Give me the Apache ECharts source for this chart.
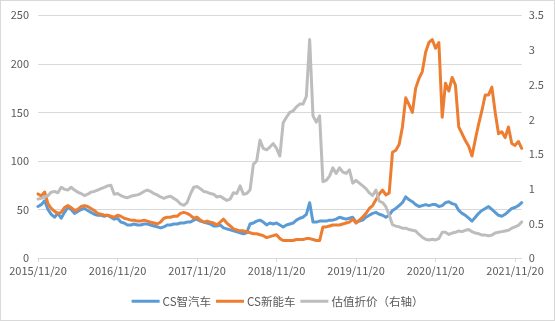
<!DOCTYPE html>
<html><head><meta charset="utf-8">
<script src="https://cdn.jsdelivr.net/npm/echarts@6/dist/echarts.min.js"></script>
<style>html,body{margin:0;padding:0;background:#fff}#c{width:555px;height:321px;position:relative}#b{position:absolute;left:0;top:0;width:553px;height:319px;border:1px solid #d9d9d9;pointer-events:none}</style>
</head><body><div id="c"></div><div id="b"></div>
<script>
// Semi-monthly sample dates (5th and 20th of each month) from 2015/11/20
const dates = [];
(function(){let y=2015,m=11,d=20;for(let i=0;i<147;i++){dates.push(y+'/'+m+'/'+d);if(d===20){d=5;m++;if(m>12){m=1;y++;}}else{d=20;}}})();
const xTickLabels = ['2015/11/20','2016/11/20','2017/11/20','2018/11/20','2019/11/20','2020/11/20','2021/11/20'];
const leftTicks = [0,50,100,150,200,250];
const rightTicks = [0,0.5,1,1.5,2,2.5,3,3.5];

const csSmartAuto = [
53,55,59,50,45,42,46,41,47,52,50,46,48,50,51,49,47,45,44,44,43,44,42,40,
41,37,36,34,34,35,34,34,35,35,34,33,32,31,32,34,34,35,35,36,36,37,37,39,
40,38,37,36,35,33,33,34,31,30,29,28,27,26,25,26,35,36,38,39,37,34,36,35,
36,34,32,34,35,36,39,41,42,45,57,37,37,38,38,38,39,39,40,42,41,40,41,42,
37,38,39,42,44,46,47,45,44,42,44,49,51,54,57,63,60,58,55,53,54,55,54,55,
55,53,54,57,58,56,55,49,46,44,41,38,42,46,49,51,53,50,47,44,43,45,48,51,
52,54,57];

const csNewEnergy = [
66,64,68,56,51,48,46,47,52,54,52,49,50,53,54,53,51,49,46,45,44,44,43,42,
44,43,41,40,39,39,38,38,39,38,37,36,35,37,41,42,42,43,43,46,47,46,44,41,
42,39,37,38,37,36,34,37,40,36,33,30,29,28,28,27,26,25,25,24,23,21,22,23,
24,20,18,18,18,18,19,19,19,20,20,19,18,18,32,32,33,34,34,34,35,36,37,40,
36,39,42,46,51,54,60,66,70,65,67,109,111,117,135,165,158,150,175,185,192,212,222,225,
216,222,145,180,172,186,178,135,128,121,115,105,122,138,152,168,168,176,150,128,130,124,135,118,
116,120,113];

const valuationDiscount = [
0.85,0.86,0.88,0.90,0.95,0.96,0.94,1.02,0.99,0.98,1.02,0.98,0.95,0.93,0.90,0.92,0.95,0.96,0.98,1.00,1.02,1.04,1.05,0.92,
0.93,0.90,0.88,0.87,0.89,0.90,0.91,0.93,0.96,0.98,0.96,0.93,0.91,0.88,0.86,0.88,0.89,0.86,0.83,0.78,0.76,0.80,0.92,1.02,
1.03,1.00,0.96,0.95,0.93,0.92,0.88,0.89,0.86,0.83,0.85,0.94,0.93,1.04,0.92,0.93,0.98,1.35,1.40,1.70,1.58,1.56,1.60,1.65,
1.58,1.47,1.95,2.03,2.10,2.12,2.18,2.22,2.22,2.33,3.15,2.05,1.96,2.05,1.10,1.12,1.18,1.30,1.22,1.30,1.24,1.22,1.27,1.08,
1.12,1.08,1.04,1.00,0.94,0.90,0.98,0.82,0.80,0.74,0.62,0.48,0.46,0.45,0.43,0.43,0.41,0.40,0.39,0.34,0.30,0.27,0.26,0.27,
0.26,0.28,0.37,0.37,0.34,0.36,0.37,0.39,0.38,0.40,0.41,0.38,0.36,0.35,0.33,0.33,0.32,0.33,0.36,0.37,0.38,0.39,0.40,0.43,
0.45,0.47,0.52];

const seriesNames = ['CS智汽车','CS新能车','估值折价（右轴）'];
const colors = ['#5B9BD5','#ED7D31','#BDBDBD'];

const font = "'Noto Sans CJK SC','Microsoft YaHei',sans-serif";
const chart = echarts.init(document.getElementById('c'), null, {renderer:'canvas'});
const lbl = {color:'#595959', fontSize:11, fontFamily:font};
const showIdx = (i)=> xTickLabels.indexOf(dates[i]) >= 0;
function mk(name, data, color, yIdx){
  return {name, type:'line', data, yAxisIndex:yIdx, showSymbol:false, symbol:'none', smooth:false,
    lineStyle:{color, width:3, cap:'round', join:'round'}, itemStyle:{color}, animation:false};
}
chart.setOption({
  animation:false,
  color:colors,
  grid:{left:38, right:33.3, top:15.3, bottom:63, containLabel:false},
  legend:{bottom:9, left:'center', icon:'rect', itemWidth:28, itemHeight:3, itemGap:5,
    textStyle:{color:'#595959', fontSize:11.5, fontFamily:font, padding:[0,0,0,-2]}, data:seriesNames},
  xAxis:{type:'category', data:dates, boundaryGap:false,
    axisLine:{lineStyle:{color:'#d9d9d9'}},
    axisTick:{show:true, interval:(i)=>showIdx(i), length:4, lineStyle:{color:'#d9d9d9'}},
    axisLabel:Object.assign({interval:(i)=>showIdx(i), margin:7, hideOverlap:false}, lbl),
    splitLine:{show:false}},
  yAxis:[
    {type:'value', min:leftTicks[0], max:leftTicks[leftTicks.length-1], interval:50,
      axisLine:{show:false}, axisTick:{show:false},
      splitLine:{lineStyle:{color:'#d9d9d9'}}, axisLabel:Object.assign({margin:9}, lbl)},
    {type:'value', min:rightTicks[0], max:rightTicks[rightTicks.length-1], interval:0.5, position:'right',
      axisLine:{show:false}, axisTick:{show:false}, splitLine:{show:false},
      axisLabel:Object.assign({margin:7, formatter:(v)=>String(+v.toFixed(1))}, lbl)}
  ],
  series:[
    mk(seriesNames[0], csSmartAuto, colors[0], 0),
    mk(seriesNames[1], csNewEnergy, colors[1], 0),
    mk(seriesNames[2], valuationDiscount, colors[2], 1)
  ]
});
</script></body></html>
